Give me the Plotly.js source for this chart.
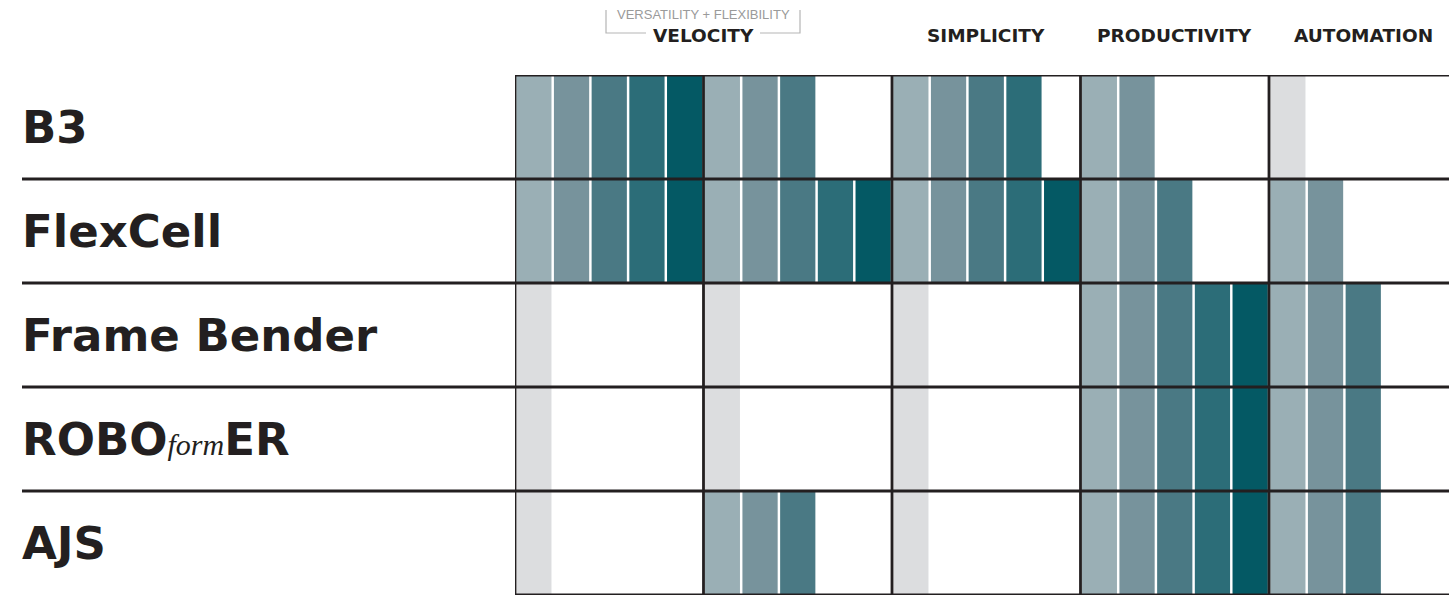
<!DOCTYPE html>
<html>
<head>
<meta charset="utf-8">
<script src="https://cdn.plot.ly/plotly-3.0.1.min.js"></script>
<style>html,body{margin:0;padding:0;background:#fff;}#chart{width:1449px;height:596px;}</style>
</head>
<body>
<div id="chart"></div>
<script>
// ---- data ----
const rowLabels = ["B3", "FlexCell", "Frame Bender", "ROBOformER", "AJS"];
const headerLabels = ["VELOCITY", "SIMPLICITY", "PRODUCTIVITY", "AUTOMATION"];
const headerNote = "VERSATILITY + FLEXIBILITY";
// score per column group (0 = none, shown as a grey stub), 5 groups per row
const scoresB3 = [5, 3, 4, 2, 0];
const scoresFlexCell = [5, 5, 5, 3, 2];
const scoresFrameBender = [0, 0, 0, 5, 3];
const scoresRoboformer = [0, 0, 0, 5, 3];
const scoresAJS = [0, 3, 0, 5, 3];

const allScores = [scoresB3, scoresFlexCell, scoresFrameBender, scoresRoboformer, scoresAJS];
const cellsPerGroup = 5;
const nGroups = 5;
const shades = ['#9aafb5', '#77939c', '#4a7984', '#2c6d78', '#045964'];
const emptyShade = '#dcdddf';
const lineColor = '#231f20';

const traces = [];
// grey stub for zero scores
{
  const xs = [], bs = [], ys = [];
  allScores.forEach((row, r) => row.forEach((v, g) => {
    if (v === 0) { xs.push(g * cellsPerGroup + 0.5); bs.push(r); ys.push(1); }
  }));
  traces.push({type: 'bar', x: xs, y: ys, base: bs, width: 0.935,
    marker: {color: emptyShade, line: {width: 0}}, hoverinfo: 'skip', showlegend: false});
}
for (let level = 1; level <= cellsPerGroup; level++) {
  const xs = [], bs = [], ys = [];
  allScores.forEach((row, r) => row.forEach((v, g) => {
    if (v >= level) { xs.push(g * cellsPerGroup + level - 0.5); bs.push(r); ys.push(1); }
  }));
  traces.push({type: 'bar', x: xs, y: ys, base: bs, width: 0.935,
    marker: {color: shades[level - 1], line: {width: 0}}, hoverinfo: 'skip', showlegend: false});
}

const plotLeft = 515, plotWidth = 934, plotTop = 75, plotHeight = 520;
const cellPx = 37.7;
const xMax = plotWidth / cellPx;
const px2paperX = p => (p - plotLeft) / plotWidth;
const px2paperY = p => 1 + (plotTop - p) / plotHeight;

const shapes = [];
// vertical group lines
for (let g = 0; g < nGroups; g++) {
  shapes.push({type: 'line', xref: 'x', yref: 'y', x0: g * cellsPerGroup, x1: g * cellsPerGroup,
    y0: 0, y1: rowLabels.length, line: {color: lineColor, width: 2.8}, layer: 'above'});
}
// horizontal row lines
for (let r = 0; r <= rowLabels.length; r++) {
  const inner = r > 0 && r < rowLabels.length;
  shapes.push({type: 'line', xref: 'paper', yref: 'y', x0: inner ? px2paperX(22) : 0, x1: 1,
    y0: r, y1: r, line: {color: lineColor, width: 2.8}, layer: 'above'});
}
// bracket around the note
const bc = '#b5b5b5';
const yb = px2paperY(33), yt = px2paperY(10);
shapes.push({type: 'path', xref: 'paper', yref: 'paper',
  path: `M ${px2paperX(606)} ${yt} L ${px2paperX(606)} ${yb} L ${px2paperX(646)} ${yb}`,
  line: {color: bc, width: 1.2}});
shapes.push({type: 'path', xref: 'paper', yref: 'paper',
  path: `M ${px2paperX(760)} ${yb} L ${px2paperX(800)} ${yb} L ${px2paperX(800)} ${yt}`,
  line: {color: bc, width: 1.2}});

const annotations = [];
const labelFont = {family: 'DejaVu Sans', size: 45, color: lineColor, weight: 'bold'};
rowLabels.forEach((lab, r) => {
  let txt = lab;
  if (lab === 'ROBOformER') {
    txt = "ROBO<span style='font-family:Liberation Serif;font-style:italic;font-weight:normal;font-size:30px'>form</span>ER";
  }
  annotations.push({xref: 'paper', yref: 'y', x: px2paperX(20), y: r + 0.5, xanchor: 'left', yanchor: 'middle',
    text: txt, showarrow: false, font: labelFont});
});
// headers: first sits on the boundary of groups 1 and 2, the others centred on groups 3-5
const headerX = [1 * cellsPerGroup, 2.5 * cellsPerGroup, 3.5 * cellsPerGroup, 4.5 * cellsPerGroup];
headerLabels.forEach((h, i) => {
  annotations.push({xref: 'x', yref: 'paper', x: headerX[i], y: px2paperY(35), xanchor: 'center', yanchor: 'middle',
    text: h, showarrow: false, font: {family: 'DejaVu Sans', size: 18.5, color: lineColor, weight: 'bold'}});
});
annotations.push({xref: 'x', yref: 'paper', x: headerX[0], y: px2paperY(15), xanchor: 'center', yanchor: 'middle',
  text: headerNote, showarrow: false, font: {family: 'Liberation Sans', size: 13, color: '#9a9a9a'}});

const layout = {
  width: 1449, height: 596,
  margin: {l: plotLeft, r: 0, t: plotTop, b: 596 - plotTop - plotHeight},
  paper_bgcolor: '#ffffff', plot_bgcolor: '#ffffff',
  barmode: 'overlay', showlegend: false,
  xaxis: {range: [0, xMax], showgrid: false, zeroline: false, showticklabels: false, showline: false, fixedrange: true},
  yaxis: {range: [rowLabels.length, 0], showgrid: false, zeroline: false, showticklabels: false, showline: false, fixedrange: true},
  shapes: shapes, annotations: annotations
};
Plotly.newPlot('chart', traces, layout, {displayModeBar: false, staticPlot: true});
</script>
</body>
</html>
